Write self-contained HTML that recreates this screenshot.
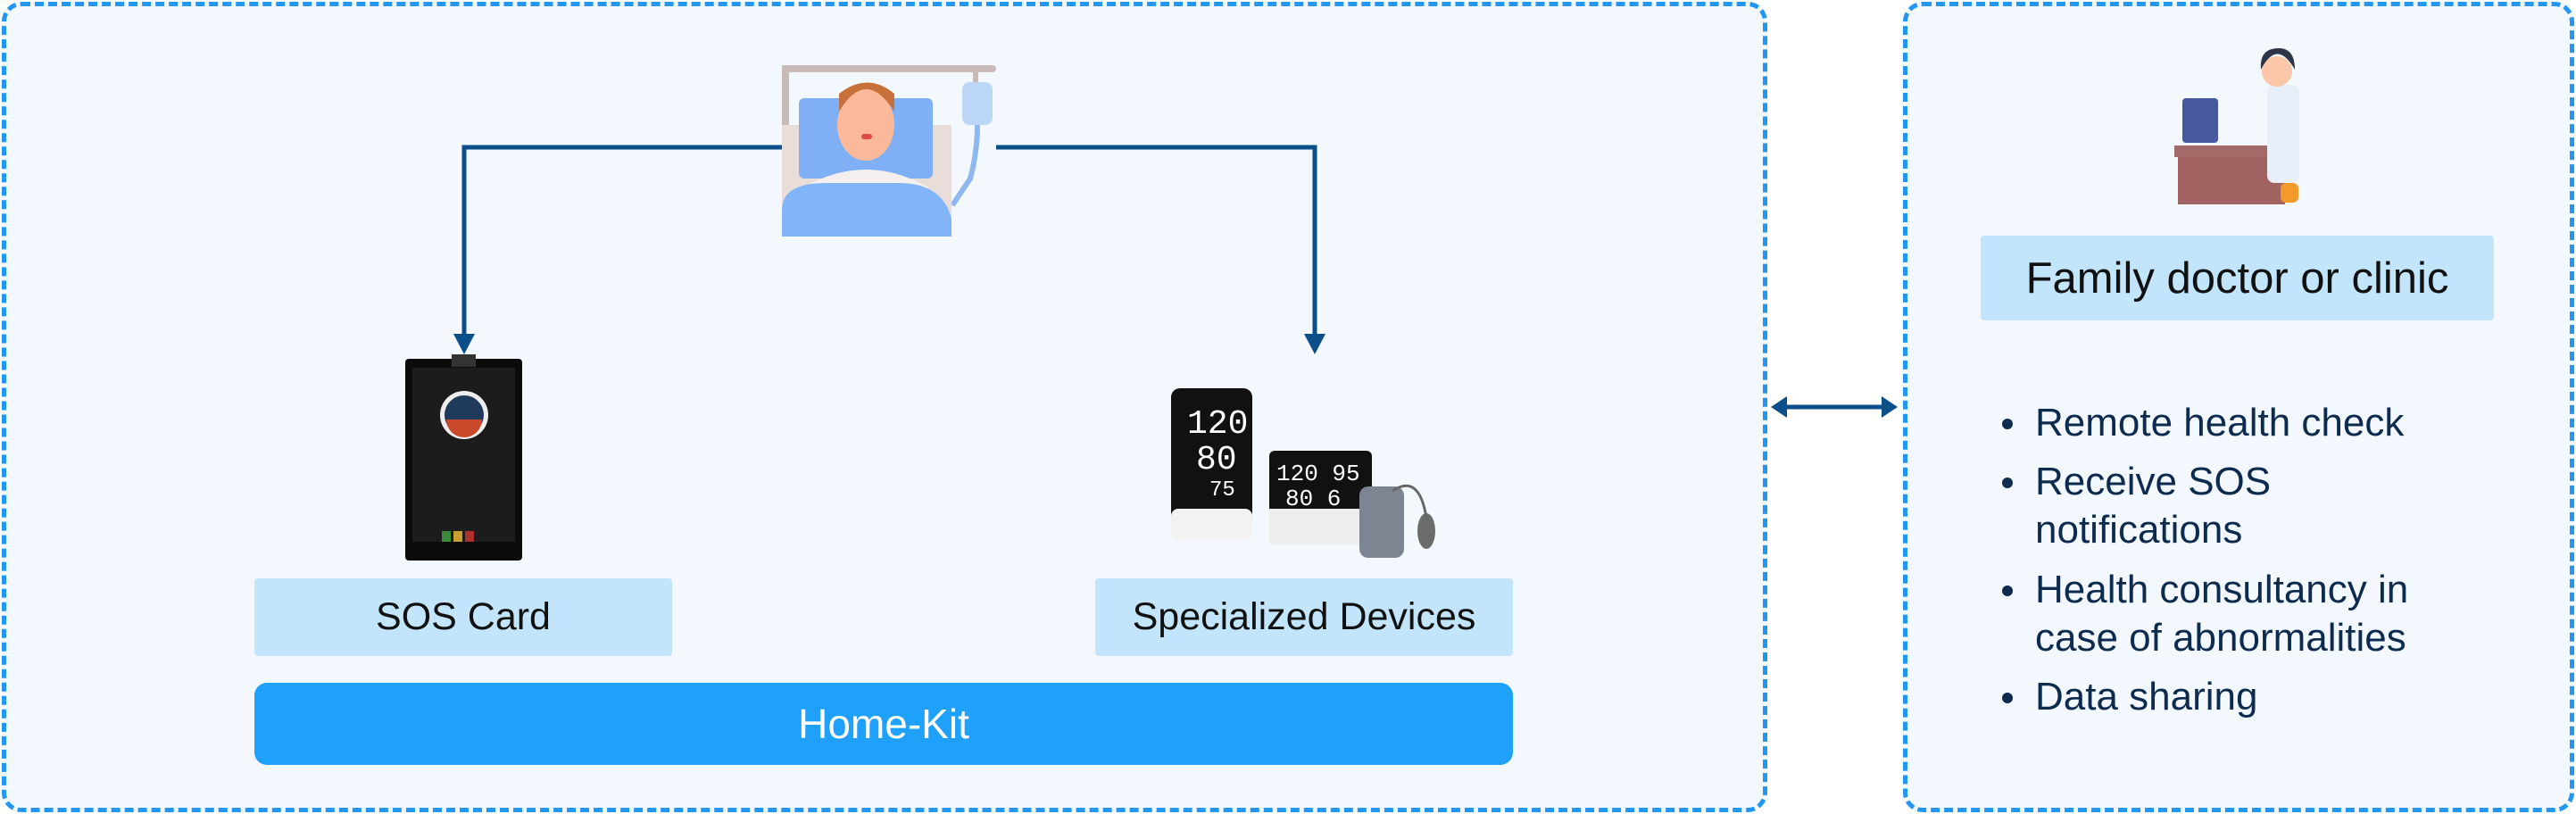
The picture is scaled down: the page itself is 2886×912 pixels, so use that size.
<!DOCTYPE html>
<html><head><meta charset="utf-8"><style>
html,body{margin:0;padding:0;background:#fff}
body{width:2886px;height:912px;position:relative;overflow:hidden;font-family:"Liberation Sans",sans-serif}
.box{position:absolute;background:#f3f8fe;border:5px dashed #2196f3;border-radius:22px;box-sizing:border-box}
.lbl{position:absolute;background:#c3e5fc;border-radius:4px;display:flex;align-items:center;justify-content:center;color:#111;font-size:43px}
.item{position:absolute;left:2280px;color:#0d2b4f;font-size:44px;line-height:54px}
.dot{position:absolute;left:2243px;width:12px;height:12px;border-radius:50%;background:#0d2b4f}
</style></head><body>
<div class="box" style="left:2px;top:2px;width:1978px;height:908px"></div>
<div class="box" style="left:2132px;top:2px;width:752px;height:908px"></div>

<svg style="position:absolute;left:0;top:0" width="2886" height="912">
<g stroke="#0a4f8a" stroke-width="5" fill="none">
<polyline points="876,165 520,165 520,378"/>
<polyline points="1116,165 1473,165 1473,378"/>
<line x1="1998" y1="456" x2="2112" y2="456"/>
</g>
<g fill="#0a4f8a">
<polygon points="508,374 532,374 520,397"/>
<polygon points="1461,374 1485,374 1473,397"/>
<polygon points="1984,456 2002,444 2002,468"/>
<polygon points="2126,456 2108,444 2108,468"/>
</g>
<g>
<rect x="876" y="73" width="240" height="8" rx="4" fill="#c9bcb8"/>
<rect x="876" y="73" width="8" height="150" fill="#c9bcb8"/>
<rect x="1090" y="73" width="6" height="25" fill="#c9bcb8"/>
<rect x="1078" y="92" width="34" height="48" rx="8" fill="#bcd6f8"/>
<path d="M1095 140 q0 30 -8 60 l-20 30" stroke="#8fb7f0" stroke-width="6" fill="none"/>
<rect x="876" y="140" width="190" height="125" fill="#e8ddd8"/>
<rect x="895" y="110" width="150" height="90" rx="6" fill="#7fb0f5"/>
<ellipse cx="970" cy="140" rx="32" ry="40" fill="#fbb99a"/>
<path d="M940 125 q30 -50 62 0 l0 -20 q-30 -25 -62 0z" fill="#c8703a"/>
<rect x="965" y="150" width="12" height="6" rx="3" fill="#e04848"/>
<path d="M900 210 q70 -40 140 0 v20 h-140z" fill="#f3f0ef"/>
<path d="M876 265 v-30 q0 -30 50 -30 h80 q50 0 60 40 v20z" fill="#82b4f8"/>
</g>
<rect x="454" y="402" width="131" height="226" rx="4" fill="#0b0b0b"/>
<rect x="506" y="397" width="27" height="14" fill="#333"/>
<rect x="462" y="412" width="115" height="195" fill="#1c1c1c"/>
<circle cx="520" cy="465" r="27" fill="#eee"/>
<circle cx="520" cy="465" r="22" fill="#1f3a5a"/>
<path d="M500 470 h40 a20 20 0 0 1 -40 0z" fill="#c94a2a"/>
<rect x="495" y="595" width="10" height="12" fill="#3a8a3a"/><rect x="508" y="595" width="10" height="12" fill="#c9a030"/><rect x="521" y="595" width="10" height="12" fill="#b03030"/>
<rect x="1312" y="435" width="91" height="170" rx="10" fill="#111"/>
<rect x="1312" y="570" width="91" height="35" rx="8" fill="#f2f2f2"/>
<text x="1330" y="485" font-size="38" fill="#fff" font-family="Liberation Mono">120</text>
<text x="1340" y="525" font-size="38" fill="#fff" font-family="Liberation Mono">80</text>
<text x="1355" y="555" font-size="24" fill="#fff" font-family="Liberation Mono">75</text>
<rect x="1422" y="505" width="115" height="100" rx="6" fill="#111"/>
<rect x="1422" y="570" width="115" height="40" fill="#eee"/>
<text x="1430" y="538" font-size="26" fill="#fff" font-family="Liberation Mono">120 95</text>
<text x="1440" y="566" font-size="26" fill="#fff" font-family="Liberation Mono">80 6</text>
<rect x="1523" y="545" width="50" height="80" rx="10" fill="#7c8591"/>
<ellipse cx="1598" cy="595" rx="10" ry="20" fill="#6b6b6b"/>
<path d="M1560 550 q30 -20 38 30" stroke="#666" stroke-width="3" fill="none"/>
<rect x="2445" y="110" width="40" height="50" rx="4" fill="#46599e"/>
<rect x="2436" y="163" width="129" height="13" fill="#a46a68"/>
<rect x="2440" y="176" width="120" height="53" fill="#a16262"/>
<rect x="2540" y="95" width="36" height="110" rx="8" fill="#e9eff8"/>
<rect x="2555" y="205" width="20" height="22" rx="6" fill="#f29a2a"/>
<circle cx="2551" cy="80" r="17" fill="#fbc7a8"/>
<path d="M2533 78 q18 -35 38 0 q0 -24 -18 -24 q-22 0 -20 24z" fill="#2d3446"/>
</svg>

<div class="lbl" style="left:285px;top:648px;width:468px;height:87px">SOS Card</div>
<div class="lbl" style="left:1227px;top:648px;width:468px;height:87px">Specialized Devices</div>
<div style="position:absolute;left:285px;top:765px;width:1410px;height:92px;background:#1ea0fb;border-radius:14px;color:#fff;font-size:46px;display:flex;align-items:center;justify-content:center">Home-Kit</div>
<div class="lbl" style="left:2219px;top:264px;width:575px;height:95px;font-size:49px">Family doctor or clinic</div>

<div class="dot" style="top:469px"></div><div class="item" style="top:447px">Remote health check</div>
<div class="dot" style="top:535px"></div><div class="item" style="top:513px">Receive SOS<br>notifications</div>
<div class="dot" style="top:656px"></div><div class="item" style="top:634px">Health consultancy in<br>case of abnormalities</div>
<div class="dot" style="top:776px"></div><div class="item" style="top:754px">Data sharing</div>
</body></html>
